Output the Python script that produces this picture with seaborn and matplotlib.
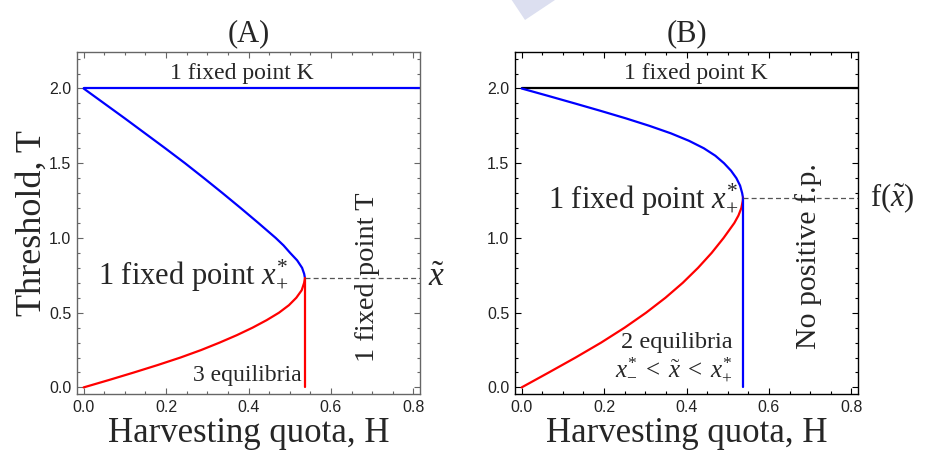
import matplotlib
matplotlib.use("Agg")
import matplotlib.pyplot as plt
from matplotlib.patches import Polygon
from matplotlib.ticker import MultipleLocator, FormatStrFormatter
import pandas as pd
import seaborn as sns

# ---- bifurcation branches, threshold T against harvesting quota H ----
# Panel (A): upper (blue) and lower (red) branches meeting at the fold
T_upper_A = [2.0, 1.9, 1.8, 1.7, 1.6, 1.5, 1.4, 1.3, 1.2, 1.1, 1.0,
             0.95, 0.9, 0.85, 0.8, 0.76, 0.731]
H_upper_A = [0.0, 0.050, 0.100, 0.149, 0.198, 0.246, 0.292, 0.337, 0.381,
             0.424, 0.466, 0.485, 0.501, 0.518, 0.530, 0.535, 0.537]
T_lower_A = [0.0, 0.05, 0.1, 0.15, 0.2, 0.25, 0.3, 0.35, 0.4, 0.45, 0.5,
             0.55, 0.6, 0.65, 0.7, 0.731]
H_lower_A = [0.0, 0.062, 0.122, 0.180, 0.235, 0.285, 0.330, 0.372, 0.410,
             0.444, 0.474, 0.498, 0.516, 0.529, 0.535, 0.537]

# Panel (B)
T_upper_B = [2.0, 1.95, 1.9, 1.85, 1.8, 1.75, 1.7, 1.65, 1.6, 1.55, 1.5,
             1.45, 1.4, 1.35, 1.3, 1.269]
H_upper_B = [0.0, 0.065, 0.129, 0.192, 0.253, 0.310, 0.362, 0.406, 0.442,
             0.470, 0.491, 0.508, 0.521, 0.530, 0.535, 0.537]
T_lower_B = [0.0, 0.1, 0.2, 0.3, 0.4, 0.5, 0.6, 0.7, 0.8, 0.9, 1.0, 1.1,
             1.15, 1.2, 1.25, 1.269]
H_lower_B = [0.0, 0.066, 0.131, 0.193, 0.250, 0.302, 0.349, 0.391, 0.428,
             0.461, 0.490, 0.516, 0.526, 0.533, 0.5366, 0.537]

K = 2.0            # carrying capacity
H_fold = 0.537     # fold (saddle-node) quota
x_tilde = 0.731    # fold threshold, panel A
f_x_tilde = 1.269  # fold threshold, panel B
H_max = 0.8

x_ticks = [0.0, 0.2, 0.4, 0.6, 0.8]
y_ticks = [0.0, 0.5, 1.0, 1.5, 2.0]

sns.set_theme(style="ticks")
plt.rcParams["font.family"] = ["Liberation Serif", "DejaVu Serif"]
plt.rcParams["mathtext.fontset"] = "custom"
plt.rcParams["mathtext.rm"] = "Liberation Serif"
plt.rcParams["mathtext.it"] = "Liberation Serif:italic"

BLUE = "#0000ff"
RED = "#ff0000"
DASH = "#555555"
LW = 1.6

fig = plt.figure(figsize=(9.25, 4.57), dpi=100)
axA = fig.add_axes([77 / 925, 63 / 457, 343 / 925, 342 / 457])
axB = fig.add_axes([515 / 925, 63 / 457, 343 / 925, 342 / 457])


def segment(ax, H, T, color, **kw):
    df = pd.DataFrame({"H": H, "T": T})
    sns.lineplot(data=df, x="H", y="T", ax=ax, sort=False, estimator=None,
                 color=color, **kw)


def style_axes(ax, frame_color):
    ax.set_xlim(-0.016, 0.816)
    ax.set_ylim(-0.044, 2.244)
    ax.set_xticks(x_ticks)
    ax.set_yticks(y_ticks)
    ax.xaxis.set_major_formatter(FormatStrFormatter("%.1f"))
    ax.yaxis.set_major_formatter(FormatStrFormatter("%.1f"))
    ax.xaxis.set_minor_locator(MultipleLocator(0.05))
    ax.yaxis.set_minor_locator(MultipleLocator(0.1))
    ax.tick_params(which="both", direction="in", top=True, right=True,
                   color=frame_color, width=0.8)
    ax.tick_params(which="major", length=4.5, pad=4, labelsize=11.5)
    ax.tick_params(which="minor", length=2.5)
    for lab in ax.get_xticklabels() + ax.get_yticklabels():
        lab.set_family(["Liberation Sans", "DejaVu Sans"])
        lab.set_color("#222222")
    for sp in ax.spines.values():
        sp.set_visible(True)
        sp.set_color(frame_color)
        sp.set_linewidth(1.0)
    ax.set_xlabel("Harvesting quota, H", fontsize=25, labelpad=2)
    ax.set_ylabel("")


# ---- Panel (A) ----
segment(axA, [0.0, H_max + 0.016], [K, K], BLUE, linewidth=LW)
segment(axA, H_upper_A, T_upper_A, BLUE, linewidth=LW)
segment(axA, H_lower_A, T_lower_A, RED, linewidth=LW)
segment(axA, [H_fold, H_fold], [0.0, x_tilde], RED, linewidth=LW)
segment(axA, [H_fold, H_max + 0.016], [x_tilde, x_tilde], DASH,
        linewidth=0.9, linestyle=(0, (4, 2.5)))
style_axes(axA, "#666666")
axA.set_ylabel("Threshold, T", fontsize=26, labelpad=0)
axA.set_title("(A)", fontsize=22, pad=8)

axA.text(0.384, 2.10, "1 fixed point K", ha="center", va="center", fontsize=17)
axA.text(0.496, 0.695, r"1 fixed point $x^{*}_{+}$", ha="right", va="baseline",
         fontsize=22)
axA.text(0.528, 0.045, "3 equilibria", ha="right", va="baseline", fontsize=17)
axA.text(0.688, 0.74, "1 fixed point T", rotation=90, ha="center", va="center",
         fontsize=20.5)
axA.text(0.857, 0.733, r"$\tilde{x}$", ha="center", va="center", fontsize=24,
         clip_on=False)

# ---- Panel (B) ----
segment(axB, [0.0, H_max + 0.016], [K, K], "black", linewidth=LW)
segment(axB, H_upper_B, T_upper_B, BLUE, linewidth=LW)
segment(axB, H_lower_B, T_lower_B, RED, linewidth=LW)
segment(axB, [H_fold, H_fold], [0.0, f_x_tilde], BLUE, linewidth=LW)
segment(axB, [H_fold, H_max + 0.016], [f_x_tilde, f_x_tilde], DASH,
        linewidth=0.9, linestyle=(0, (4, 2.5)))
style_axes(axB, "black")
axB.set_title("(B)", fontsize=22, pad=8)

axB.text(0.4235, 2.10, "1 fixed point K", ha="center", va="center", fontsize=17)
axB.text(0.525, 1.202, r"1 fixed point $x^{*}_{+}$", ha="right", va="baseline",
         fontsize=22)
axB.text(0.512, 0.265, "2 equilibria", ha="right", va="baseline", fontsize=17.5)
axB.text(0.512, 0.075, r"$x^{*}_{-}\;<\;\tilde{x}\;<\;x^{*}_{+}$", ha="right",
         va="baseline", fontsize=18)
axB.text(0.697, 0.88, "No positive f.p.", rotation=90, ha="center", va="center",
         fontsize=21.5)
axB.text(0.845, 1.267, r"f$(\tilde{x})$", ha="left", va="center", fontsize=22,
         clip_on=False)

# faint mark along the top edge
fig.patches.append(Polygon([(511.7 / 925, 1.0), (555 / 925, 1.0),
                            (525 / 925, 1 - 20 / 457)], closed=True,
                           transform=fig.transFigure, facecolor="#dcdff0",
                           edgecolor="none", zorder=0))

fig.savefig("out.png", dpi=100)
